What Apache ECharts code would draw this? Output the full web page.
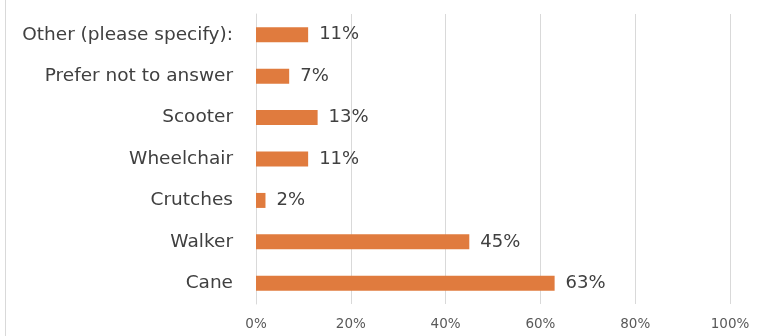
<!DOCTYPE html>
<html>
<head>
<meta charset="utf-8">
<script src="https://cdn.jsdelivr.net/npm/echarts@6/dist/echarts.min.js"></script>
<style>
  html, body { margin: 0; padding: 0; background: #fff; }
  #chart { width: 763px; height: 336px; }
</style>
</head>
<body>
<div id="chart"></div>
<script>
// categories bottom -> top (category axis draws first item at the bottom)
const categories = ["Cane", "Walker", "Crutches", "Wheelchair", "Scooter", "Prefer not to answer", "Other (please specify):"];
const shares = [63, 45, 2, 11, 13, 7, 11];
const xTicks = [0, 20, 40, 60, 80, 100];

const chart = echarts.init(document.getElementById("chart"));
chart.setOption({
  animation: false,
  textStyle: { fontFamily: "'DejaVu Sans', sans-serif" },
  graphic: [
    {
      type: "line",
      shape: { x1: 5.5, y1: 0, x2: 5.5, y2: 336 },
      style: { stroke: "#d9d9d9", lineWidth: 1 },
    },
  ],
  grid: { left: 256, right: 33, top: 14, bottom: 32, containLabel: false },
  xAxis: {
    type: "value",
    min: xTicks[0],
    max: xTicks[xTicks.length - 1],
    interval: 20,
    axisLine: { show: false },
    axisTick: { show: false },
    splitLine: { show: true, lineStyle: { color: "#d9d9d9", width: 1 } },
    axisLabel: {
      color: "#595959",
      fontSize: 13.5,
      margin: 13,
      formatter: (v) => v + "%",
    },
  },
  yAxis: {
    type: "category",
    data: categories,
    axisLine: { show: true, lineStyle: { color: "#d9d9d9" } },
    axisTick: { show: false },
    axisLabel: { color: "#404040", fontSize: 18.5, margin: 23 },
  },
  series: [
    {
      type: "bar",
      data: shares,
      barWidth: 15,
      itemStyle: { color: "#e07b3e" },
      label: {
        show: true,
        position: "right",
        distance: 11,
        color: "#404040",
        fontSize: 18,
        formatter: (p) => p.value + "%",
      },
    },
  ],
});
</script>
</body>
</html>
